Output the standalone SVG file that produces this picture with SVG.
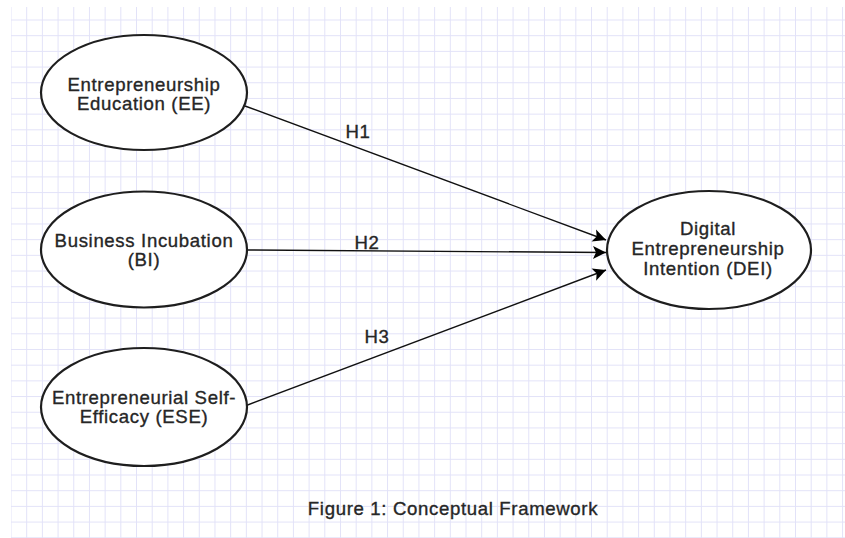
<svg xmlns="http://www.w3.org/2000/svg" width="845" height="538" viewBox="0 0 845 538">
  <style>
    .node ellipse { fill: #ffffff; stroke: #1e1e1e; stroke-width: 2.2; }
    .node text, .lbl, .cap { font-family: "Liberation Sans", Arial, sans-serif; font-size: 18.6px; font-weight: normal; letter-spacing: 0.65px; fill: #262626; stroke: #262626; stroke-width: 0.35; text-anchor: middle; }
    .edge { stroke: #111111; stroke-width: 1.4; fill: none; marker-end: url(#arrow); }
  </style>
  <defs>
    <pattern id="grid" x="10.5" y="3.81" width="15.69" height="15.69" patternUnits="userSpaceOnUse">
      <path d="M0 0.5 H15.69 M0.5 0 V15.69" stroke="#e2e2f8" stroke-width="1" fill="none"/>
    </pattern>
    <marker id="arrow" markerUnits="userSpaceOnUse" markerWidth="16" markerHeight="16" refX="14" refY="7" orient="auto">
      <path d="M1 0.5 L14 7 L1 13.5 L4 7 Z" fill="#000000"/>
    </marker>
  </defs>
  <rect width="845" height="538" fill="#ffffff"/>
  <rect x="11" y="7" width="834" height="531" fill="url(#grid)"/>

  <g id="connectors">
    <line class="edge" x1="245" y1="106" x2="606" y2="240"/>
    <line class="edge" x1="246" y1="250" x2="606" y2="252.5"/>
    <line class="edge" x1="245" y1="406" x2="606" y2="270"/>
    <text class="lbl" x="358" y="138">H1</text>
    <text class="lbl" x="367" y="249">H2</text>
    <text class="lbl" x="377" y="343">H3</text>
  </g>

  <g id="node-ee" class="node">
    <ellipse cx="144" cy="92.5" rx="103" ry="57.5"/>
    <text x="144" y="90.5">Entrepreneurship</text>
    <text x="144" y="110">Education (EE)</text>
  </g>
  <g id="node-bi" class="node">
    <ellipse cx="144" cy="249.5" rx="103" ry="58"/>
    <text x="144" y="246.5">Business Incubation</text>
    <text x="144" y="266">(BI)</text>
  </g>
  <g id="node-ese" class="node">
    <ellipse cx="144" cy="407" rx="103" ry="59"/>
    <text x="144" y="403.5">Entrepreneurial Self-</text>
    <text x="144" y="423">Efficacy (ESE)</text>
  </g>
  <g id="node-dei" class="node">
    <ellipse cx="709" cy="250" rx="102" ry="59"/>
    <text x="708" y="235">Digital</text>
    <text x="708" y="255">Entrepreneurship</text>
    <text x="708" y="274.5">Intention (DEI)</text>
  </g>

  <text class="cap" x="453" y="514.5">Figure 1: Conceptual Framework</text>
</svg>
